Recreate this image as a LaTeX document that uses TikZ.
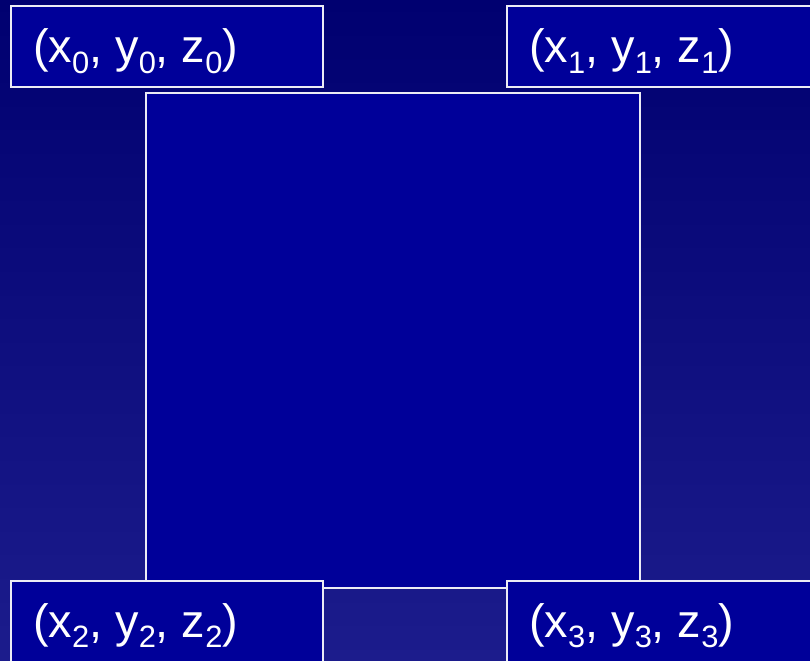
\documentclass[tikz,border=0pt]{standalone}
\usepackage{fontspec}
\setmainfont{Liberation Sans}
\definecolor{bgtop}{RGB}{0,0,112}
\definecolor{bgbot}{RGB}{28,28,140}
\definecolor{boxfill}{RGB}{0,0,153}
\definecolor{edge}{RGB}{235,235,245}
\newcommand{\sbs}[1]{\raisebox{-0.22em}{\fontsize{31}{32}\selectfont #1}}
\newcommand{\coordtxt}[1]{(x\sbs{#1}, y\sbs{#1}, z\sbs{#1})}
\begin{document}
\begin{tikzpicture}[x=1bp,y=-1bp,
  boxstyle/.style={draw=edge, line width=2bp, fill=boxfill, rectangle, inner sep=0pt, anchor=north west},
  lbl/.style={text=white, font=\fontsize{47}{52}\selectfont, anchor=base west, inner sep=0pt}]
\useasboundingbox (0,0) rectangle (810,661);
\shade[top color=bgtop, bottom color=bgbot] (0,0) rectangle (810,661);
\node[boxstyle, minimum width=494bp, minimum height=495bp] (sq) at (145,92) {};
\node[boxstyle, minimum width=312bp, minimum height=81bp] (b0) at (10,5) {};
\node[boxstyle, minimum width=310bp, minimum height=81bp] (b1) at (506,5) {};
\node[boxstyle, minimum width=312bp, minimum height=90bp] (b2) at (10,580) {};
\node[boxstyle, minimum width=310bp, minimum height=90bp] (b3) at (506,580) {};
\node[lbl] (t0) at (33,63) {\coordtxt{0}};
\node[lbl] (t1) at (529,63) {\coordtxt{1}};
\node[lbl] (t2) at (33,637) {\coordtxt{2}};
\node[lbl] (t3) at (529,637) {\coordtxt{3}};
\end{tikzpicture}
\end{document}
